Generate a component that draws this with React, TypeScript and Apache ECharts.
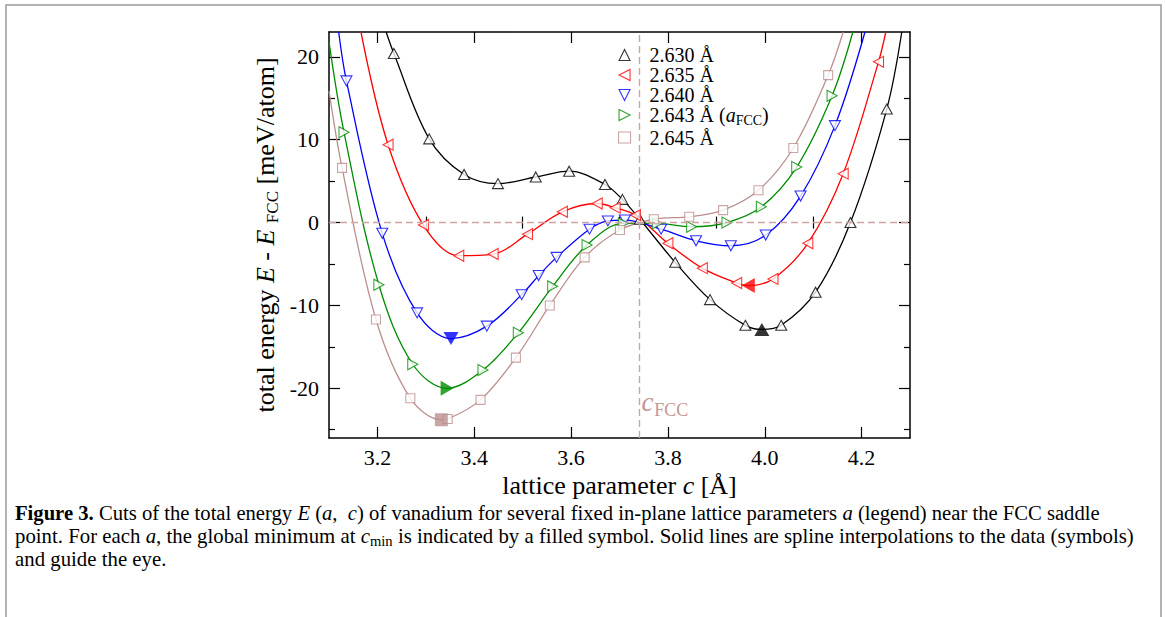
import React, { useEffect, useRef } from "react";
import * as echarts from "echarts";

const FONT = '"Liberation Serif", "Times New Roman", serif';

// ---- data (c in Å, E - E_FCC in meV/atom) ----
const legendNames = ["2.630 Å", "2.635 Å", "2.640 Å", "2.643 Å (aFCC)", "2.645 Å"];
const legendLabels = ["2.630 Å", "2.635 Å", "2.640 Å", "2.643 Å ({i|a}{s|FCC})", "2.645 Å"];
const colors = ["#000000", "#ff0000", "#0000ff", "#008c00", "#bc8f8f"];

const pts2630 = [
  [3.234, 20.4], [3.307, 10.1], [3.379, 5.8], [3.449, 4.7], [3.527, 5.5], [3.596, 6.2],
  [3.67, 4.6], [3.706, 2.8], [3.742, 0.4], [3.815, -4.8], [3.887, -9.3], [3.96, -12.4],
  [4.034, -12.4], [4.105, -8.4], [4.177, 0.0], [4.252, 13.7],
];
const pts2635 = [
  [3.222, 9.4], [3.295, -0.3], [3.368, -4.0], [3.439, -3.8], [3.51, -1.4], [3.582, 1.3],
  [3.654, 2.3], [3.691, 1.8], [3.733, 0.9], [3.8, -2.5], [3.871, -5.5], [3.942, -7.3],
  [4.017, -6.8], [4.089, -2.5], [4.162, 5.9], [4.235, 19.4],
];
const pts2640 = [
  [3.136, 17.1], [3.21, -1.3], [3.282, -10.9], [3.426, -12.5], [3.498, -8.7], [3.533, -6.4],
  [3.57, -4.2], [3.638, -0.8], [3.676, 0.2], [3.711, 0.3], [3.786, -0.8], [3.858, -2.2],
  [3.93, -2.8], [4.002, -1.5], [4.074, 3.2], [4.145, 11.7],
];
const pts2643 = [
  [3.131, 10.9], [3.203, -7.5], [3.273, -17.1], [3.418, -17.8], [3.491, -13.3], [3.562, -7.7],
  [3.633, -2.7], [3.708, -0.1], [3.778, -0.1], [3.849, -0.5], [3.922, 0.0], [3.993, 1.9],
  [4.066, 6.7], [4.139, 15.3],
];
const pts2645 = [
  [3.127, 6.6], [3.197, -11.7], [3.268, -21.2], [3.345, -23.7], [3.413, -21.4], [3.486, -16.3],
  [3.556, -10.0], [3.628, -4.2], [3.701, -0.9], [3.771, 0.4], [3.844, 0.7], [3.914, 1.5],
  [3.987, 3.9], [4.059, 9.0], [4.131, 17.8],
];
// global minima (filled symbols)
const minima = [[3.994, -12.9], [3.966, -7.6], [3.352, -14.0], [3.344, -20.0], [3.332, -23.8]];
// where the spline curves leave the plotted window
const curveEnds = [
  [[3.218, 23], [4.283, 23]],
  [[3.166, 23], [4.25, 23]],
  [[3.12, 23], [4.207, 23]],
  [[3.1, 21.8], [4.182, 23]],
  [[3.1, 15.9], [4.162, 23]],
];
const markerSets = [pts2630, pts2635, pts2640, pts2643, pts2645];

const cFCC = 3.739;
const xMin = 3.1, xMax = 4.3, yMin = -26, yMax = 23;
const xMajor = [3.2, 3.4, 3.6, 3.8, 4.0, 4.2];
const xMinor = [3.3, 3.5, 3.7, 3.9, 4.1];
const yMajor = [-20, -10, 0, 10, 20];
const yMinor = [-25, -15, -5, 5, 15];

// symbols
const SYM_UP = "path://M5,0 L10,10 L0,10 Z";
const SYM_LEFT = "path://M0,5 L10,0 L10,10 Z";
const SYM_DOWN = "path://M0,0 L10,0 L5,10 Z";
const SYM_RIGHT = "path://M0,0 L10,5 L0,10 Z";
const symbols = [SYM_UP, SYM_LEFT, SYM_DOWN, SYM_RIGHT, "rect"];
const openSizes: any[] = [[11, 10], [10, 11], [11, 10], [10, 11], [9, 9]];
const fillSizes: any[] = [[15, 13], [13, 15], [15, 13], [13, 15], [13, 13]];

type Seg = { t: string; s: "n" | "i" | "b" | "sub" };
const CAP_SIZE = 20;
const SUB_SIZE = 14;

function measure(segs: Seg[]) {
  const ctx = document.createElement("canvas").getContext("2d")!;
  let w = 0;
  for (const g of segs) {
    const size = g.s === "sub" ? SUB_SIZE : CAP_SIZE;
    const st = g.s === "i" ? "italic " : "";
    const wt = g.s === "b" ? "bold " : "";
    ctx.font = `${st}${wt}${size}px ${FONT}`;
    w += ctx.measureText(g.t).width;
  }
  return w;
}
function richStr(segs: Seg[]) {
  return segs.map((g) => (g.s === "n" ? g.t : `{${g.s}|${g.t}}`)).join("");
}

const cap1: Seg[] = [
  { t: "Figure 3.", s: "b" },
  { t: " Cuts of the total energy ", s: "n" },
  { t: "E", s: "i" },
  { t: " (", s: "n" },
  { t: "a", s: "i" },
  { t: ",  ", s: "n" },
  { t: "c", s: "i" },
  { t: ") of vanadium for several fixed in-plane lattice parameters ", s: "n" },
  { t: "a", s: "i" },
  { t: " (legend) near the FCC saddle", s: "n" },
];
const cap2: Seg[] = [
  { t: "point. For each ", s: "n" },
  { t: "a", s: "i" },
  { t: ", the global minimum at ", s: "n" },
  { t: "c", s: "i" },
  { t: "min", s: "sub" },
  { t: " is indicated by a filled symbol. Solid lines are spline interpolations to the data (symbols)", s: "n" },
];
const cap3: Seg[] = [{ t: "and guide the eye.", s: "n" }];

export default function App() {
  const ref = useRef<HTMLDivElement>(null);
  useEffect(() => {
    const chart = echarts.init(ref.current!, null, { renderer: "svg" });

    const series: any[] = [];
    markerSets.forEach((pts, i) => {
      const lineData = [...curveEnds[i], ...pts, minima[i]].slice().sort((a, b) => a[0] - b[0]);
      const line: any = {
        type: "line",
        name: "curve" + i,
        xAxisIndex: 0,
        yAxisIndex: 0,
        data: lineData,
        showSymbol: false,
        symbol: "none",
        smooth: 0.35,
        silent: true,
        z: 2,
        lineStyle: { color: colors[i], width: 1.3 },
      };
      if (i === 0) {
        line.markLine = {
          silent: true,
          symbol: ["none", "none"],
          lineStyle: { type: [7, 4], color: "#cfa3a3", width: 1.4 },
          label: { show: false },
          data: [{ xAxis: cFCC }, { yAxis: 0 }],
        };
        line.markPoint = {
          silent: true,
          data: [
            {
              coord: [cFCC, -21.6],
              symbol: "circle",
              symbolSize: 0,
              label: {
                show: true,
                position: "right",
                distance: 3,
                formatter: () => "{it|c}{sb|FCC}",
                rich: {
                  it: { fontFamily: FONT, fontStyle: "italic", fontSize: 27, color: "#c49595" },
                  sb: { fontFamily: FONT, fontSize: 18, color: "#c49595", padding: [16, 0, 0, 1] },
                },
              },
            },
          ],
        };
      }
      series.push(line);
      series.push({
        type: "scatter",
        name: legendNames[i],
        xAxisIndex: 0,
        yAxisIndex: 0,
        data: pts,
        symbol: symbols[i],
        symbolSize: openSizes[i],
        z: 3,
        itemStyle: { color: "#ffffff", borderColor: colors[i], borderWidth: 1.1 },
      });
      series.push({
        type: "scatter",
        name: "min" + i,
        xAxisIndex: 0,
        yAxisIndex: 0,
        data: [minima[i]],
        symbol: symbols[i],
        symbolSize: fillSizes[i],
        z: 4,
        itemStyle: { color: colors[i] },
      });
    });

    const axisLineStyle = { color: "#000", width: 1.5 };
    const tickStyle = { color: "#000", width: 1.2 };
    const baseX = { type: "value", min: xMin, max: xMax, splitLine: { show: false } };
    const baseY = { type: "value", min: yMin, max: yMax, splitLine: { show: false } };

    const w = [measure(cap1), measure(cap2)];
    const s1 = (1100 - 15) / w[0];
    const s2 = (1134 - 15) / w[1];
    const capRich = {
      b: { fontFamily: FONT, fontSize: CAP_SIZE, fontWeight: "bold", fill: "#000" },
      i: { fontFamily: FONT, fontSize: CAP_SIZE, fontStyle: "italic", fill: "#000" },
      sub: { fontFamily: FONT, fontSize: SUB_SIZE, fill: "#000", padding: [10, 0, 0, 0] },
    };
    const capText = (segs: Seg[], y: number, sx: number) => ({
      type: "text",
      x: 15,
      y,
      scaleX: sx,
      silent: true,
      style: {
        text: richStr(segs),
        rich: capRich,
        fontFamily: FONT,
        fontSize: CAP_SIZE,
        fill: "#000",
        verticalAlign: "middle",
      },
    });

    const option: any = {
      animation: false,
      backgroundColor: "#ffffff",
      grid: [
        { left: 329, top: 32, width: 581, height: 406, containLabel: false },
        { left: 329, top: 32, width: 581, height: 406, containLabel: false },
      ],
      xAxis: [
        {
          ...baseX,
          gridIndex: 0,
          position: "bottom",
          axisLine: { show: true, onZero: false, lineStyle: axisLineStyle },
          axisTick: { show: true, inside: true, length: 11, customValues: xMajor, lineStyle: tickStyle },
          axisLabel: {
            show: true,
            customValues: xMajor,
            formatter: (v: number) => v.toFixed(1),
            fontFamily: FONT,
            fontSize: 22,
            color: "#000",
            margin: 8,
          },
          name: "lattice parameter {i|c} [Å]",
          nameLocation: "middle",
          nameGap: 28,
          nameTextStyle: {
            fontFamily: FONT,
            fontSize: 26,
            color: "#000",
            rich: { i: { fontFamily: FONT, fontSize: 26, fontStyle: "italic", color: "#000" } },
          },
        },
        {
          ...baseX,
          gridIndex: 0,
          position: "top",
          axisLine: { show: true, onZero: false, lineStyle: axisLineStyle },
          axisTick: { show: true, inside: true, length: 11, customValues: xMajor, lineStyle: tickStyle },
          axisLabel: { show: false },
        },
        {
          ...baseX,
          gridIndex: 1,
          position: "bottom",
          axisLine: { show: false },
          axisTick: { show: true, inside: true, length: 6, customValues: xMinor, lineStyle: tickStyle },
          axisLabel: { show: false },
        },
        {
          ...baseX,
          gridIndex: 1,
          position: "top",
          axisLine: { show: false },
          axisTick: { show: true, inside: true, length: 6, customValues: xMinor, lineStyle: tickStyle },
          axisLabel: { show: false },
        },
      ],
      yAxis: [
        {
          ...baseY,
          gridIndex: 0,
          position: "left",
          axisLine: { show: true, onZero: false, lineStyle: axisLineStyle },
          axisTick: { show: true, inside: true, length: 11, customValues: yMajor, lineStyle: tickStyle },
          axisLabel: {
            show: true,
            customValues: yMajor,
            fontFamily: FONT,
            fontSize: 22,
            color: "#000",
            margin: 10,
          },
          name: "total energy {i|E} - {i|E} {s|FCC} [meV/atom]",
          nameLocation: "middle",
          nameRotate: 90,
          nameGap: 48,
          nameTextStyle: {
            fontFamily: FONT,
            fontSize: 26,
            color: "#000",
            rich: {
              i: { fontFamily: FONT, fontSize: 26, fontStyle: "italic", color: "#000" },
              s: { fontFamily: FONT, fontSize: 17, color: "#000", padding: [14, 0, 0, 0] },
            },
          },
        },
        {
          ...baseY,
          gridIndex: 0,
          position: "right",
          axisLine: { show: true, onZero: false, lineStyle: axisLineStyle },
          axisTick: { show: true, inside: true, length: 11, customValues: yMajor, lineStyle: tickStyle },
          axisLabel: { show: false },
        },
        {
          ...baseY,
          gridIndex: 1,
          position: "left",
          axisLine: { show: false },
          axisTick: { show: true, inside: true, length: 6, customValues: yMinor, lineStyle: tickStyle },
          axisLabel: { show: false },
        },
        {
          ...baseY,
          gridIndex: 1,
          position: "right",
          axisLine: { show: false },
          axisTick: { show: true, inside: true, length: 6, customValues: yMinor, lineStyle: tickStyle },
          axisLabel: { show: false },
        },
      ],
      legend: {
        orient: "vertical",
        left: 613,
        top: 40,
        itemWidth: 12,
        itemHeight: 11,
        itemGap: 0,
        selectedMode: false,
        data: legendNames.map((n, i) => ({
          name: n,
          icon: symbols[i],
          itemStyle: { color: "#ffffff", borderColor: colors[i], borderWidth: 1.1 },
        })),
        formatter: (name: string) => legendLabels[legendNames.indexOf(name)],
        textStyle: {
          fontFamily: FONT,
          fontSize: 20,
          color: "#000",
          lineHeight: 20,
          padding: [0, 0, 0, 14],
          rich: {
            i: { fontFamily: FONT, fontSize: 20, fontStyle: "italic", color: "#000", lineHeight: 20 },
            s: { fontFamily: FONT, fontSize: 14, color: "#000", padding: [11, 0, 0, 0] },
          },
        },
      },
      graphic: [
        {
          type: "rect",
          silent: true,
          z: -10,
          shape: { x: 6, y: 5, width: 1155, height: 700 },
          style: { fill: "none", stroke: "#9a9a9a", lineWidth: 1.5 },
        },
        capText(cap1, 513, s1),
        capText(cap2, 536, s2),
        capText(cap3, 559, s2),
      ],
      series,
    };
    chart.setOption(option);
    return () => chart.dispose();
  }, []);
  return (
    <div
      ref={ref}
      style={{ position: "fixed", left: 0, top: 0, width: 1166, height: 617, background: "#fff" }}
    />
  );
}
